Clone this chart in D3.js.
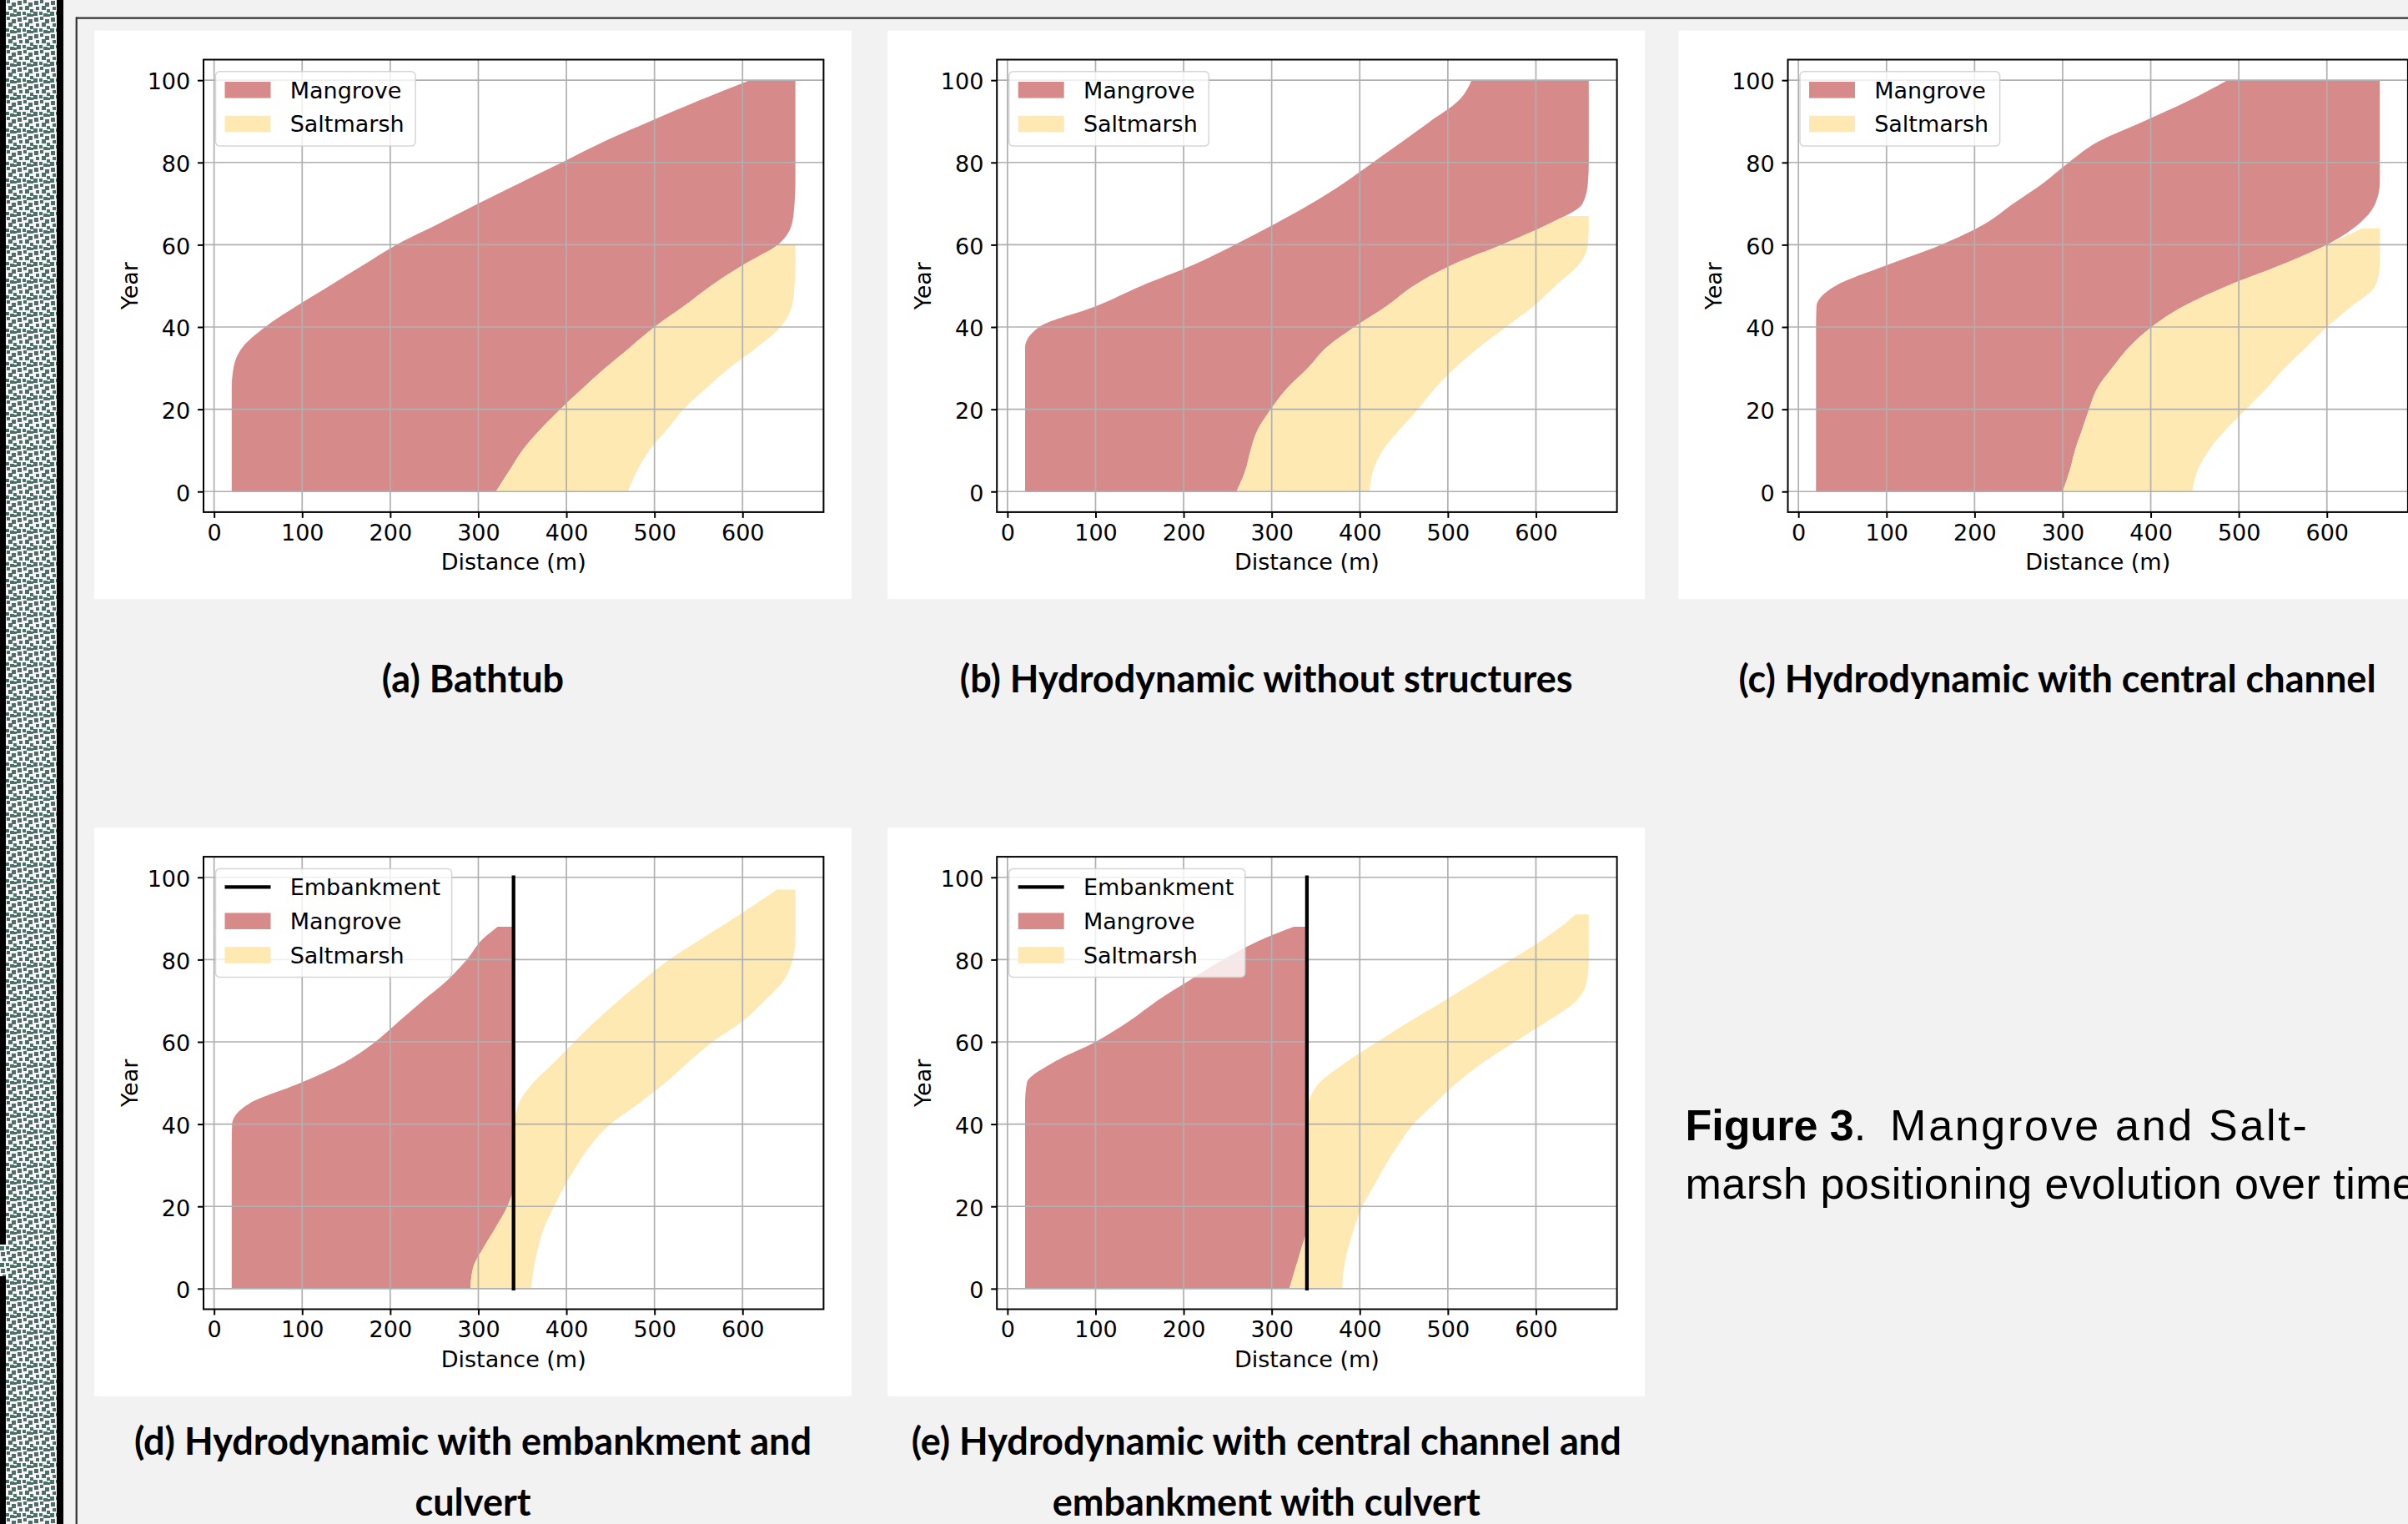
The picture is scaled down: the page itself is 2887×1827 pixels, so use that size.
<!DOCTYPE html>
<html><head><meta charset="utf-8">
<script src="https://cdn.jsdelivr.net/npm/d3@7"></script>
<style>
html,body{margin:0;padding:0;background:#f2f2f2;overflow:hidden}
svg{display:block}
</style></head><body>
<script>
// ---------------- DATA ----------------
const xTickValues = [0, 100, 200, 300, 400, 500, 600];
const yTickValues = [0, 20, 40, 60, 80, 100];
const xDomain = [-12, 692];
const yDomain = [-5, 105];

// (a) Bathtub
const yearsA_mangrove = [0,5,10,15,20,25,30,35,40,45,50,55,60,65,70,75,80,85,90,95,100];
const mangroveA_landward = [20,20,20,20,20,20,22,32,58,93,131,169,207,254,300,347,395,442,495,550,608];
const mangroveA_seaward  = [320,335,350,370,393,418,444,472,500,533,564,600,640,656,659,660,660,660,660,660,660];
const yearsA_saltmarsh = [0,5,10,15,20,25,30,35,40,45,50,55,60];
const saltmarshA_landward = [320,335,350,370,393,418,444,472,500,533,564,600,642];
const saltmarshA_seaward  = [470,480,494,514,533,558,585,616,643,656,659,660,660];

// (b) Hydrodynamic without structures
const yearsB_mangrove = [0,5,10,15,20,25,30,35,40,45,50,55,60,65,70,75,80,85,90,95,100];
const mangroveB_landward = [20,20,20,20,20,20,20,20,36,100,152,210,258,303,345,382,415,448,480,512,527];
const mangroveB_seaward  = [260,270,276,284,299,317,341,362,394,430,461,504,561,614,653,659,660,660,660,660,660];
const yearsB_saltmarsh = [0,5,10,15,20,25,30,35,40,45,50,55,60,65,67];
const saltmarshB_landward = [260,270,276,284,299,317,341,362,394,430,461,504,561,614,633];
const saltmarshB_seaward  = [411,415,426,445,466,485,508,535,566,597,622,648,659,660,660];

// (c) Hydrodynamic with central channel
const yearsC_mangrove = [0,5,10,15,20,25,30,35,40,45,50,55,60,65,70,75,80,85,90,95,100];
const mangroveC_landward = [20,20,20,20,20,20,20,20,20,20.5,42,100,162,211,244,278,307,340,392,443,487];
const mangroveC_seaward  = [300,308,314,322,330,339,356,375,401,437,487,547,600,636,655,660,660,660,660,660,660];
const yearsC_saltmarsh = [0,5,10,15,20,25,30,35,40,45,50,55,60,64];
const saltmarshC_landward = [300,308,314,322,330,339,356,375,401,437,487,547,600,640];
const saltmarshC_seaward  = [447,453,466,485,508,531,552,576,600,628,655,660,660,660];

// (d) Hydrodynamic with embankment and culvert
const yearsD_mangrove = [0,5,10,15,20,25,30,35,40,45,50,55,60,65,70,75,80,85,88];
const mangroveD_landward = [20,20,20,20,20,20,20,20,20.5,40,98,148,183,210,237,265,287,305,322];
const mangroveD_seaward  = [291,294,306,320,333,340,340,340,340,340,340,340,340,340,340,340,340,340,340];
const yearsD_saltmarsh = [0,5,10,15,20,25,30,35,40,45,50,55,60,65,70,75,80,85,90,95,97];
const saltmarshD_landward = [291,294,306,320,333,340,340,340,341,346,362,386,409,433,459,487,517,553,590,625,639];
const saltmarshD_seaward  = [360,363,368,375,386,398,412,428,450,482,512,538,566,600,625,647,657,660,660,660,660];

// (e) Hydrodynamic with central channel and embankment with culvert
const yearsE_mangrove = [0,5,10,15,20,25,30,35,40,45,50,55,60,65,70,75,80,85,88];
const mangroveE_landward = [20,20,20,20,20,20,20,20,20,20,22,52,100,138,170,207,245,290,325];
const mangroveE_seaward  = [320,327,334,340,340,340,340,340,340,340,340,340,340,340,340,340,340,340,340];
const yearsE_saltmarsh = [0,5,10,15,20,25,30,35,40,45,50,55,60,65,70,75,80,85,90,91];
const saltmarshE_landward = [320,327,334,340,340,340,340,340,340,342,354,384,420,457,496,534,572,609,640,645];
const saltmarshE_seaward  = [380,382,387,394,403,416,429,444,461,485,510,540,576,613,646,658,660,660,660,660];

// Embankment (panels d, e)
const embankmentX = 340;
const embankmentYears = [0, 100];

// Text
const legendLabels = ["Mangrove", "Saltmarsh"];
const embankmentLabel = "Embankment";
const xAxisLabel = "Distance (m)";
const yAxisLabel = "Year";
const captionA = ["(a) Bathtub"];
const captionB = ["(b) Hydrodynamic without structures"];
const captionC = ["(c) Hydrodynamic with central channel"];
const captionD = ["(d) Hydrodynamic with embankment and", "culvert"];
const captionE = ["(e) Hydrodynamic with central channel and", "embankment with culvert"];
const figureLabel = "Figure 3";
const figureSep = ".\u00a0\u00a0";
const figureLine1 = "Mangrove and Salt-";
const figureLine2 = "marsh positioning evolution over time";

// ---------------- STYLE ----------------
const MANGROVE = "#d68a8a";
const SALT = "#fee9b2";
const W = 2887, H = 1827;
const PW = 908, PH = 681.5;
const AXL = 131, AXT = 34.8, AW = 743.4, AH = 542.4;
const TICKFONT = "'DejaVu Sans', sans-serif";

const svg = d3.select("body").append("svg").attr("width", W).attr("height", H);
svg.append("rect").attr("width", W).attr("height", H).attr("fill", "#f2f2f2");

// left decorative strip
const defs = svg.append("defs");
const pat = defs.append("pattern").attr("id", "texture").attr("patternUnits", "userSpaceOnUse")
  .attr("width", 20).attr("height", 20);
pat.append("rect").attr("width", 20).attr("height", 20).attr("fill", "#f6f6f6");
[[1,1,5,5],[8,0,4,4],[14,3,5,5],[3,8,4,4],[10,7,5,5],[16,11,4,4],[0,14,5,5],[7,14,4,4],[12,16,5,4],[17,17,3,3]]
  .forEach(s => pat.append("rect").attr("x", s[0]).attr("y", s[1]).attr("width", s[2]).attr("height", s[3]).attr("fill", "#4f6e69"));
svg.append("rect").attr("x", 0).attr("y", 0).attr("width", 69).attr("height", H).attr("fill", "url(#texture)");
svg.append("rect").attr("x", 0).attr("y", 0).attr("width", 7).attr("height", 1492).attr("fill", "#000");
svg.append("rect").attr("x", 0).attr("y", 1530).attr("width", 7).attr("height", H - 1530).attr("fill", "#000");
svg.append("rect").attr("x", 68).attr("y", 0).attr("width", 8).attr("height", H).attr("fill", "#000");

// frame lines
svg.append("line").attr("x1", 91).attr("x2", W).attr("y1", 21.7).attr("y2", 21.7).attr("stroke", "#333").attr("stroke-width", 2.2);
svg.append("line").attr("x1", 91.7).attr("x2", 91.7).attr("y1", 20.6).attr("y2", H).attr("stroke", "#333").attr("stroke-width", 2.2);

const panels = [
  {x: 113, y: 36.7, my: yearsA_mangrove, ml: mangroveA_landward, ms: mangroveA_seaward,
   sy: yearsA_saltmarsh, sl: saltmarshA_landward, ss: saltmarshA_seaward, emb: false, cap: captionA},
  {x: 1064.2, y: 36.7, my: yearsB_mangrove, ml: mangroveB_landward, ms: mangroveB_seaward,
   sy: yearsB_saltmarsh, sl: saltmarshB_landward, ss: saltmarshB_seaward, emb: false, cap: captionB},
  {x: 2012.5, y: 36.7, my: yearsC_mangrove, ml: mangroveC_landward, ms: mangroveC_seaward,
   sy: yearsC_saltmarsh, sl: saltmarshC_landward, ss: saltmarshC_seaward, emb: false, cap: captionC},
  {x: 113, y: 992.3, my: yearsD_mangrove, ml: mangroveD_landward, ms: mangroveD_seaward,
   sy: yearsD_saltmarsh, sl: saltmarshD_landward, ss: saltmarshD_seaward, emb: true, cap: captionD},
  {x: 1064.2, y: 992.3, my: yearsE_mangrove, ml: mangroveE_landward, ms: mangroveE_seaward,
   sy: yearsE_saltmarsh, sl: saltmarshE_landward, ss: saltmarshE_seaward, emb: true, cap: captionE}
];

// caption font size from measured width
const probe = svg.append("text").attr("font-family", "Lato").attr("font-weight", 700).attr("font-size", 100).text(captionB[0]);
const capSize = 100 * 735 / probe.node().getComputedTextLength();
probe.remove();

function drawPanel(p) {
  const g = svg.append("g").attr("transform", `translate(${p.x},${p.y})`);
  g.append("rect").attr("width", PW).attr("height", PH).attr("fill", "#fff");
  const a = g.append("g").attr("transform", `translate(${AXL},${AXT})`);
  const x = d3.scaleLinear().domain(xDomain).range([0, AW]);
  const y = d3.scaleLinear().domain(yDomain).range([AH, 0]);

  const band = (years, land, sea) => d3.area()
    .curve(d3.curveMonotoneY)
    .y((d, i) => y(years[i]))
    .x0((d, i) => x(land[i]))
    .x1((d, i) => x(sea[i]))(years);

  a.append("path").attr("d", band(p.my, p.ml, p.ms)).attr("fill", MANGROVE);
  a.append("path").attr("d", band(p.sy, p.sl, p.ss)).attr("fill", SALT);

  // grid
  const grid = a.append("g").attr("stroke", "#b0b0b0").attr("stroke-width", 1.7);
  grid.selectAll(".gx").data(xTickValues).join("line")
    .attr("x1", d => x(d)).attr("x2", d => x(d)).attr("y1", 0).attr("y2", AH);
  grid.selectAll(".gy").data(yTickValues).join("line")
    .attr("y1", d => y(d)).attr("y2", d => y(d)).attr("x1", 0).attr("x2", AW);

  if (p.emb) {
    a.append("line")
      .attr("x1", x(embankmentX)).attr("x2", x(embankmentX))
      .attr("y1", y(embankmentYears[0])).attr("y2", y(embankmentYears[1]))
      .attr("stroke", "#000").attr("stroke-width", 4.3).attr("stroke-linecap", "square");
  }

  // axes
  const xa = a.append("g").attr("transform", `translate(0,${AH})`)
    .call(d3.axisBottom(x).tickValues(xTickValues).tickSize(7).tickSizeOuter(0).tickPadding(7.5).tickFormat(d3.format("d")));
  const ya = a.append("g")
    .call(d3.axisLeft(y).tickValues(yTickValues).tickSize(7).tickSizeOuter(0).tickPadding(8.8).tickFormat(d3.format("d")));
  [xa, ya].forEach(ax => {
    ax.attr("font-family", TICKFONT).attr("font-size", 27).attr("color", "#000");
    ax.select(".domain").remove();
    ax.selectAll(".tick line").attr("stroke-width", 2);
  });
  ya.selectAll(".tick text").attr("dy", "0.4em");

  a.append("rect").attr("width", AW).attr("height", AH).attr("fill", "none").attr("stroke", "#000").attr("stroke-width", 2);

  a.append("text").attr("x", AW / 2).attr("y", AH + 69.4).attr("text-anchor", "middle")
    .attr("font-family", TICKFONT).attr("font-size", 27).attr("fill", "#000").text(xAxisLabel);
  a.append("text").attr("transform", `translate(-79.3,${AH / 2}) rotate(-90)`).attr("text-anchor", "middle")
    .attr("font-family", TICKFONT).attr("font-size", 27).attr("fill", "#000").text(yAxisLabel);

  // legend
  const items = [];
  if (p.emb) items.push({type: "line", label: embankmentLabel});
  items.push({type: "patch", color: MANGROVE, label: legendLabels[0]});
  items.push({type: "patch", color: SALT, label: legendLabels[1]});
  const lg = a.append("g").attr("transform", "translate(14.5,14.3)");
  const frame = lg.append("rect").attr("rx", 5).attr("ry", 5)
    .attr("fill", "#fff").attr("fill-opacity", 0.8)
    .attr("stroke", "#cccccc").attr("stroke-opacity", 0.8).attr("stroke-width", 1.5);
  let maxW = 0;
  items.forEach((it, i) => {
    const cy = 22 + i * 40.8;
    if (it.type === "line") {
      lg.append("line").attr("x1", 11).attr("x2", 66).attr("y1", cy).attr("y2", cy)
        .attr("stroke", "#000").attr("stroke-width", 4.3);
    } else {
      lg.append("rect").attr("x", 11).attr("y", cy - 9.8).attr("width", 55).attr("height", 19.6).attr("fill", it.color);
    }
    const t = lg.append("text").attr("x", 89.2).attr("y", cy).attr("dy", "0.36em")
      .attr("font-family", TICKFONT).attr("font-size", 27).attr("fill", "#000").text(it.label);
    maxW = Math.max(maxW, t.node().getComputedTextLength());
  });
  frame.attr("width", 89.2 + maxW + 13.5).attr("height", 22 + (items.length - 1) * 40.8 + 26.5);

  // caption
  const capY = p.y < 500 ? 830 - p.y : 1743.7 - p.y;
  p.cap.forEach((line, i) => {
    g.append("text").attr("x", PW / 2).attr("y", capY + i * 73.3).attr("text-anchor", "middle")
      .attr("font-family", "Lato, 'Open Sans', sans-serif").attr("font-weight", 700)
      .attr("font-size", capSize).attr("fill", "#000").text(line);
  });
}
panels.forEach(drawPanel);

// figure caption text
const ft = svg.append("text").attr("x", 2020.5).attr("y", 1367)
  .attr("font-family", "'Liberation Sans', Arial, sans-serif").attr("font-size", 52).attr("fill", "#000");
ft.append("tspan").attr("font-weight", 700).text(figureLabel);
ft.append("tspan").text(figureSep);
ft.append("tspan").attr("letter-spacing", 2.7).text(figureLine1);
svg.append("text").attr("x", 2020.5).attr("y", 1437)
  .attr("font-family", "'Liberation Sans', Arial, sans-serif").attr("font-size", 52).attr("fill", "#000")
  .attr("letter-spacing", 0.5)
  .text(figureLine2);
</script>
</body></html>
